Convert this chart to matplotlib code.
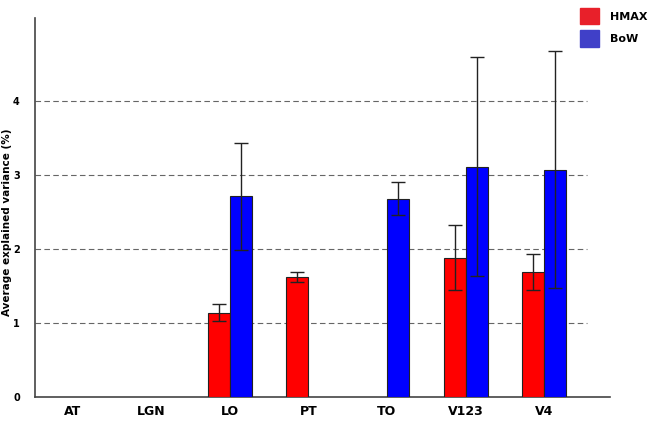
import numpy as np
import matplotlib
matplotlib.use("Agg")
import matplotlib.pyplot as plt
from matplotlib.patches import Patch

categories = ["AT", "LGN", "LO", "PT", "TO", "V123", "V4"]
hmax_vals = [np.nan, np.nan, 1.14, 1.62, np.nan, 1.88, 1.69]
hmax_err = [np.nan, np.nan, 0.11, 0.065, np.nan, 0.44, 0.245]
bow_vals = [np.nan, np.nan, 2.71, np.nan, 2.68, 3.11, 3.07]
bow_err = [np.nan, np.nan, 0.72, np.nan, 0.22, 1.48, 1.60]
yticks = [0, 1, 2, 3, 4]

fig = plt.figure(figsize=(6.61, 4.21), dpi=100)
ax = fig.add_axes([0.053, 0.057, 0.87, 0.9])

x = np.arange(len(categories))
w = 0.28
ax.bar(x - w/2, hmax_vals, w, color="#FF0000", edgecolor="#222222", linewidth=0.8, zorder=3)
ax.bar(x + w/2, bow_vals, w, color="#0000FF", edgecolor="#222222", linewidth=0.8, zorder=3)
ax.errorbar(x - w/2, hmax_vals, yerr=hmax_err, fmt="none", ecolor="#222222",
            elinewidth=1.0, capsize=5, capthick=1.0, zorder=4)
ax.errorbar(x + w/2, bow_vals, yerr=bow_err, fmt="none", ecolor="#222222",
            elinewidth=1.0, capsize=5, capthick=1.0, zorder=4)

for yv in yticks[1:]:
    ax.axhline(yv, xmin=0, xmax=0.96, color="#666666", linestyle=(0, (5, 3)), linewidth=0.8, zorder=1)

ax.set_xlim(-0.48, 6.84)
ax.set_ylim(0, 5.12)
ax.set_yticks(yticks)
ax.set_yticklabels([str(t) for t in yticks], fontsize=7, fontweight="bold")
ax.set_xticks(x)
ax.set_xticklabels(categories, fontsize=9, fontweight="bold")
ax.tick_params(axis="x", length=0, pad=6)
ax.tick_params(axis="y", length=0, pad=11)
for s in ["top", "right"]:
    ax.spines[s].set_visible(False)
for s in ["left", "bottom"]:
    ax.spines[s].set_color("#444444")
    ax.spines[s].set_linewidth(1.2)

ax.set_ylabel("Average explained variance (%)", fontsize=7.5, fontweight="bold")
ax.yaxis.set_label_coords(-0.04, 0.46)

handles = [Patch(facecolor="#E8202A", edgecolor="#E8202A", label="HMAX"),
           Patch(facecolor="#4040C8", edgecolor="#4040C8", label="BoW")]
fig.legend(handles=handles, loc="upper right", bbox_to_anchor=(0.995, 1.005), frameon=False,
           prop={"weight": "bold", "size": 8}, handlelength=1.7, handleheight=1.9,
           labelspacing=0.55, handletextpad=1.0)

fig.savefig("out.png", dpi=100)
